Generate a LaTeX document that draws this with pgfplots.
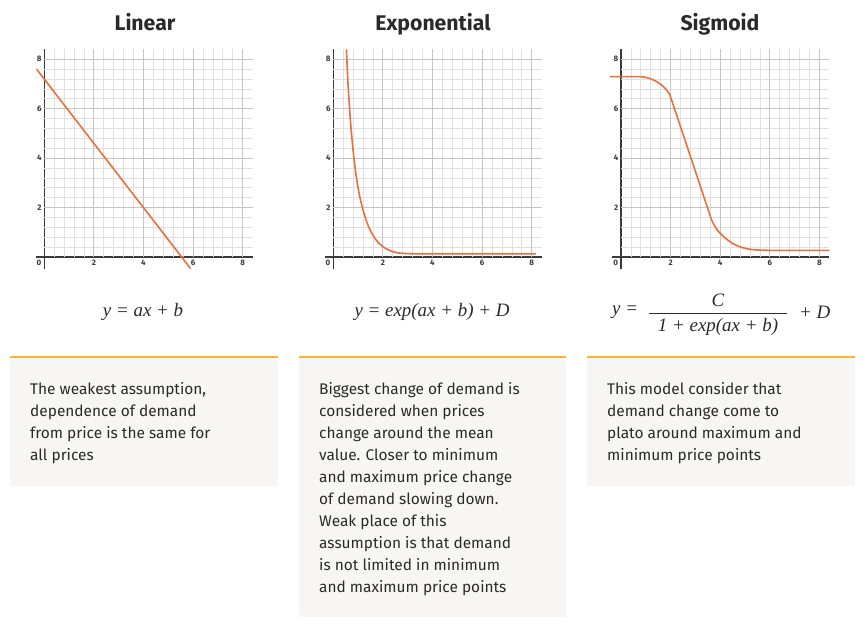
\documentclass[border=0pt]{standalone}
\usepackage{pgfplots}
\pgfplotsset{compat=1.18}
\usepackage{fontspec}
\setmainfont{Fira Sans}
\newfontfamily\formfont{Liberation Serif}
\definecolor{curve}{HTML}{E8703A}
\definecolor{majg}{HTML}{C4C4C4}
\definecolor{ming}{HTML}{E0E0E0}
\definecolor{axc}{HTML}{3A3A3A}
\definecolor{yel}{HTML}{F4B731}
\definecolor{boxc}{HTML}{F7F6F4}
\definecolor{txt}{HTML}{2A2A2A}
\newcommand{\mygrid}{%
  \pgfplotsinvokeforeach{0.4,0.8,1.2,1.6,2.4,2.8,3.2,3.6,4.4,4.8,5.2,5.6,6.4,6.8,7.2,7.6,8}{%
    \draw[ming,line width=0.7bp,solid] (axis cs:##1,0) -- (axis cs:##1,8.4);
    \draw[ming,line width=0.7bp,solid] (axis cs:0,##1) -- (axis cs:8.4,##1);}
  \pgfplotsinvokeforeach{2,4,6,8}{%
    \draw[majg,line width=0.8bp,solid] (axis cs:##1,0) -- (axis cs:##1,8.4);
    \draw[majg,line width=0.8bp,solid] (axis cs:0,##1) -- (axis cs:8.4,##1);}
  \node[anchor=center,font=\fontsize{8}{9}\selectfont\bfseries,text=axc,inner sep=0pt] at (axis cs:-0.21,-0.25) {0};
}
\pgfplotsset{dem/.style={
  scale only axis, width=217bp, height=220bp,
  xmin=-0.35, xmax=8.4, ymin=-0.5, ymax=8.4,
  axis lines=middle, axis line style={-,axc,line width=1.2bp},
  xtick={2,4,6,8}, ytick={2,4,6,8},
  major tick length=0pt,
  tick label style={font=\fontsize{8}{9}\selectfont\bfseries,text=axc},
  xticklabel style={anchor=north,inner sep=1pt,yshift=-1.5bp},
  yticklabel style={anchor=east,inner sep=1pt,xshift=-1.5bp},
  /pgf/number format/assume math mode=true,
  clip=false, anchor=south west,
}}
\tikzset{cv/.style={curve,line width=1.6bp,solid,no marks}}
\begin{document}
\begin{tikzpicture}[x=1bp,y=1bp]
\fill[white] (0,0) rectangle (865,628);
% titles
\node[anchor=base,font=\fontsize{21.3}{24}\selectfont\bfseries,text=txt] at (145,{628-31}) {Linear};
\node[anchor=base,font=\fontsize{21.3}{24}\selectfont\bfseries,text=txt] at (433,{628-31}) {Exponential};
\node[anchor=base,font=\fontsize{21.3}{24}\selectfont\bfseries,text=txt] at (720,{628-31}) {Sigmoid};
% plots
\begin{axis}[dem, at={(35.6bp,{(628-269.4)*1bp})}]
\mygrid
\addplot[cv] coordinates {(-0.31,7.6) (5.9,-0.47)};
\end{axis}
\begin{axis}[dem, at={(324.6bp,{(628-269.4)*1bp})}]
\mygrid
\addplot[cv,smooth,tension=0.5] coordinates {(0.53,8.4) (0.6,6.9) (0.7,5.4) (0.8,4.3) (0.9,3.45) (1.0,2.8) (1.1,2.3) (1.2,1.9) (1.35,1.42) (1.5,1.06) (1.65,0.8) (1.8,0.6) (2.0,0.42) (2.2,0.3) (2.4,0.22) (2.6,0.17) (2.85,0.145) (3.1,0.135) (3.5,0.13) (8.17,0.13)};
\end{axis}
\begin{axis}[dem, at={(612.3bp,{(628-269.4)*1bp})}]
\mygrid
\addplot[cv] coordinates {(-0.44,7.3) (0.76,7.3) (1.0,7.27) (1.2,7.21) (1.4,7.12) (1.6,6.99) (1.8,6.81) (1.95,6.6) (2.06,6.3) (3.65,1.51) (3.75,1.3) (3.9,1.07) (4.1,0.86) (4.3,0.69) (4.5,0.55) (4.7,0.45) (4.9,0.38) (5.1,0.33) (5.3,0.30) (5.6,0.28) (6.0,0.27) (8.4,0.27)};
\end{axis}
% formulas
\node[font=\formfont\itshape\fontsize{19}{22}\selectfont,text=txt] at (143,{628-312}) {y = ax + b};
\node[font=\formfont\itshape\fontsize{19}{22}\selectfont,text=txt] at (432,{628-312}) {y = exp(ax + b) + D};
\node[font=\formfont\itshape\fontsize{19}{22}\selectfont,text=txt,anchor=west,inner sep=0pt] at (612,{628-312}) {y =};
\node[font=\formfont\itshape\fontsize{19}{22}\selectfont,text=txt] at (718,{628-300}) {C};
\draw[txt,line width=0.9bp] (649,{628-313}) -- (787,{628-313});
\node[font=\formfont\itshape\fontsize{19}{22}\selectfont,text=txt] at (718,{628-327}) {1 + exp(ax + b)};
\node[font=\formfont\itshape\fontsize{19}{22}\selectfont,text=txt,anchor=west,inner sep=0pt] at (799,{628-312}) {+ D};
% boxes
\fill[boxc] (10,{628-357}) rectangle (278,{628-486});
\fill[boxc] (299,{628-357}) rectangle (566,{628-617});
\fill[boxc] (587,{628-357}) rectangle (855,{628-486});
\draw[yel,line width=2.2bp] (10,{628-357}) -- (278,{628-357});
\draw[yel,line width=2.2bp] (299,{628-357}) -- (566,{628-357});
\draw[yel,line width=2.2bp] (587,{628-357}) -- (855,{628-357});
\def\bt#1#2#3{\node[anchor=base west,inner sep=0pt,font=\fontsize{15.5}{18}\selectfont,text=txt] at (#1,{628-395-22*(#2-1)}) {#3};}
\bt{30}{1}{The weakest assumption,}
\bt{30}{2}{dependence of demand}
\bt{30}{3}{from price is the same for}
\bt{30}{4}{all prices}
\bt{319}{1}{Biggest change of demand is}
\bt{319}{2}{considered when prices}
\bt{319}{3}{change around the mean}
\bt{319}{4}{value. Closer to minimum}
\bt{319}{5}{and maximum price change}
\bt{319}{6}{of demand slowing down.}
\bt{319}{7}{Weak place of this}
\bt{319}{8}{assumption is that demand}
\bt{319}{9}{is not limited in minimum}
\bt{319}{10}{and maximum price points}
\bt{607}{1}{This model consider that}
\bt{607}{2}{demand change come to}
\bt{607}{3}{plato around maximum and}
\bt{607}{4}{minimum price points}
\end{tikzpicture}
\end{document}
